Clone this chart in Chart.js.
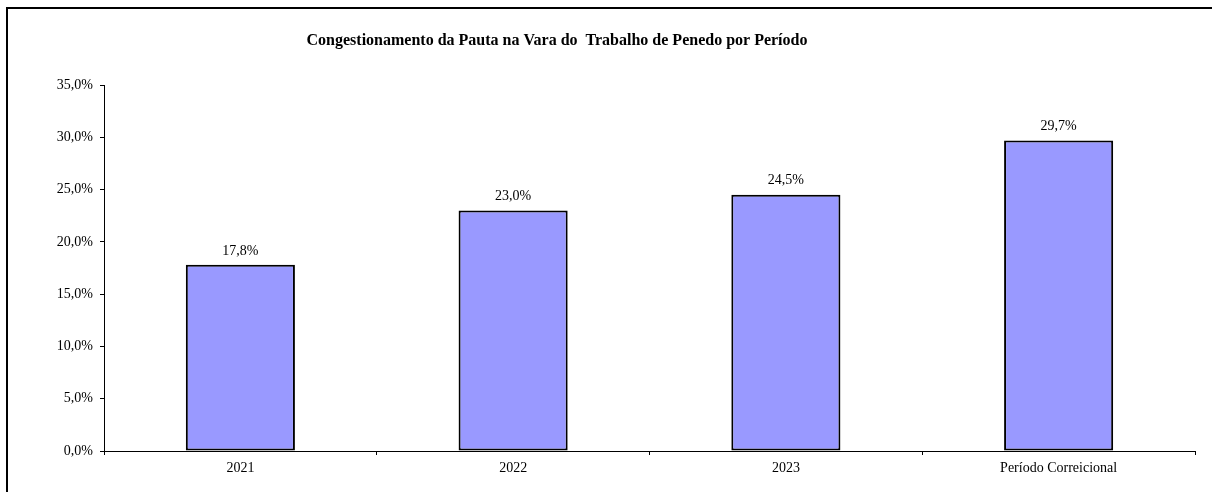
<!DOCTYPE html>
<html>
<head>
<meta charset="utf-8">
<script src="https://cdn.jsdelivr.net/npm/chart.js@4.4.0/dist/chart.umd.min.js"></script>
<style>
  html, body { margin: 0; padding: 0; background: #fff; }
  #wrap { width: 1212px; height: 492px; }
</style>
</head>
<body>
<div id="wrap"><canvas id="chart" width="1212" height="492"></canvas></div>
<script>
// data
const categories = ["2021", "2022", "2023", "Período Correicional"]
const congestion = [17.8, 23.0, 24.5, 29.7]
const yTicks = [0, 5, 10, 15, 20, 25, 30, 35]

const chartTitle = "Congestionamento da Pauta na Vara do  Trabalho de Penedo por Período"
const serif = "'Liberation Serif', 'Times New Roman', serif"

const fmtPct = v => v.toFixed(1).replace(".", ",") + "%"

// frame + title drawn on the canvas
const framePlugin = {
  id: "frame",
  beforeDraw(chart) {
    const ctx = chart.ctx
    ctx.save()
    ctx.fillStyle = "#fff"
    ctx.fillRect(0, 0, chart.width, chart.height)
    ctx.strokeStyle = "#000"
    ctx.lineWidth = 2
    ctx.beginPath()
    ctx.moveTo(7, chart.height)
    ctx.lineTo(7, 8)
    ctx.lineTo(chart.width, 8)
    ctx.stroke()

    ctx.fillStyle = "#000"
    ctx.font = "bold 16px " + serif
    ctx.textAlign = "center"
    ctx.textBaseline = "middle"
    ctx.fillText(chartTitle, 557, 41)
    ctx.restore()
  }
}

// value labels above the bars
const valueLabels = {
  id: "valueLabels",
  afterDatasetsDraw(chart) {
    const ctx = chart.ctx
    const meta = chart.getDatasetMeta(0)
    ctx.save()
    ctx.fillStyle = "#000"
    ctx.font = "14px " + serif
    ctx.textAlign = "center"
    ctx.textBaseline = "middle"
    meta.data.forEach((bar, i) => {
      ctx.fillText(fmtPct(congestion[i]), bar.x, bar.y - 14)
    })
    ctx.restore()
  }
}

new Chart(document.getElementById("chart"), {
  type: "bar",
  data: {
    labels: categories,
    datasets: [{
      data: congestion,
      backgroundColor: "#9999FF",
      borderColor: "#000",
      borderWidth: 2,
      borderSkipped: false,
      barPercentage: 0.4,
      categoryPercentage: 1
    }]
  },
  options: {
    responsive: false,
    animation: false,
    devicePixelRatio: 1,
    layout: { padding: { top: 85, right: 17, left: 0, bottom: 0 } },
    plugins: {
      legend: { display: false },
      tooltip: { enabled: false }
    },
    scales: {
      x: {
        afterFit: s => { s.height = 41 },
        grid: {
          offset: true,
          drawOnChartArea: false,
          drawTicks: true,
          tickLength: 4,
          color: "#000"
        },
        border: { color: "#000", width: 1 },
        ticks: {
          color: "#000",
          padding: 5,
          font: { family: serif, size: 14 }
        }
      },
      y: {
        min: 0,
        max: 35,
        afterFit: s => { s.width = 104 },
        afterBuildTicks: s => { s.ticks = yTicks.map(v => ({ value: v })) },
        grid: {
          drawOnChartArea: false,
          drawTicks: true,
          tickLength: 4,
          color: "#000"
        },
        border: { color: "#000", width: 1 },
        ticks: {
          color: "#000",
          padding: 7,
          font: { family: serif, size: 14 },
          callback: v => fmtPct(v)
        }
      }
    }
  },
  plugins: [framePlugin, valueLabels]
})
</script>
</body>
</html>
